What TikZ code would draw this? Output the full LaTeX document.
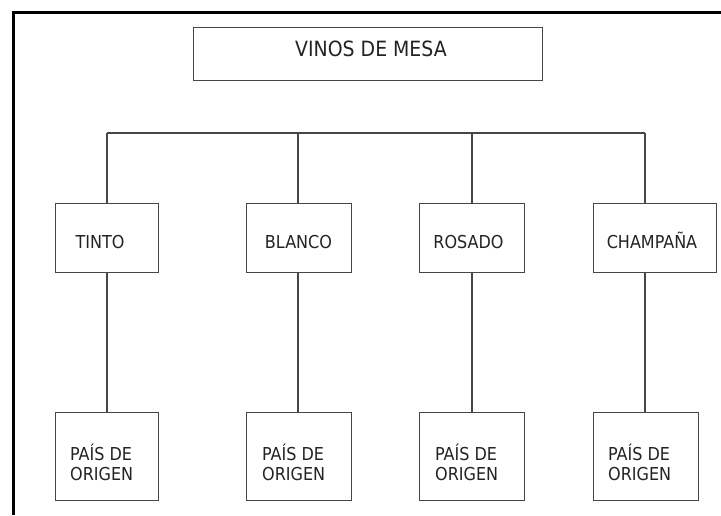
\documentclass[tikz,border=0pt]{standalone}
\usepackage{fontspec}
\setmainfont{DejaVu Sans Condensed}
\definecolor{linec}{RGB}{70,70,70}
\definecolor{textc}{RGB}{35,35,35}
\tikzset{
  boxnode/.style={draw=linec, line width=1.3pt, fill=white, inner sep=0pt, anchor=north west},
  conn/.style={draw=linec, line width=1.3pt},
  frameline/.style={draw=black, line width=3pt},
  toptext/.style={text=textc, font=\fontsize{21}{24}\selectfont, anchor=base, inner sep=0pt},
  midtext/.style={text=textc, font=\fontsize{17.8}{20}\selectfont, anchor=base, inner sep=0pt},
  bottext/.style={text=textc, font=\fontsize{17.8}{19.3}\selectfont, anchor=base west, inner sep=0pt, align=left},
}
\begin{document}
\begin{tikzpicture}[x=1pt,y=-1pt]
\useasboundingbox[fill=white] (0,0) rectangle (721,515);
% outer frame (left and top edges)
\coordinate (fBL) at (13,515);
\coordinate (fTL) at (13,12);
\coordinate (fTR) at (721,12);
\draw[frameline] (fBL) -- (fTL) -- (fTR);
% top box
\node[boxnode, minimum width=349pt, minimum height=53pt] (top) at (193,27) {};
\node[toptext] (toptxt) at (371,56.5) {VINOS DE MESA};
% bus
\coordinate (busL) at (107,133);
\coordinate (busR) at (645,133);
\draw[conn] (busL) -- (busR);
% middle boxes
\node[boxnode, minimum width=103pt, minimum height=69pt] (m1) at (55,203) {};
\node[boxnode, minimum width=105pt, minimum height=69pt] (m2) at (246,203) {};
\node[boxnode, minimum width=105pt, minimum height=69pt] (m3) at (419,203) {};
\node[boxnode, minimum width=123pt, minimum height=69pt] (m4) at (593,203) {};
\node[midtext] (m1t) at (100,248.5) {TINTO};
\node[midtext] (m2t) at (298.5,248.5) {BLANCO};
\node[midtext] (m3t) at (468.5,248.5) {ROSADO};
\node[midtext] (m4t) at (652,248.5) {CHAMPAÑA};
% bottom boxes
\node[boxnode, minimum width=103pt, minimum height=88pt] (b1) at (55,412) {};
\node[boxnode, minimum width=105pt, minimum height=88pt] (b2) at (246,412) {};
\node[boxnode, minimum width=105pt, minimum height=88pt] (b3) at (419,412) {};
\node[boxnode, minimum width=105pt, minimum height=88pt] (b4) at (593,412) {};
\node[bottext] (b1t) at (70,480) {PAÍS DE\\ORIGEN};
\node[bottext] (b2t) at (262,480) {PAÍS DE\\ORIGEN};
\node[bottext] (b3t) at (435,480) {PAÍS DE\\ORIGEN};
\node[bottext] (b4t) at (608,480) {PAÍS DE\\ORIGEN};
% connectors
\coordinate (d1) at (107,133);
\coordinate (d2) at (298,133);
\coordinate (d3) at (472,133);
\coordinate (d4) at (645,133);
\foreach \i in {1,2,3,4}{
  \draw[conn] (d\i) -- (d\i |- m\i.north);
  \draw[conn] (d\i |- m\i.south) -- (d\i |- b\i.north);
}
\end{tikzpicture}
\end{document}
